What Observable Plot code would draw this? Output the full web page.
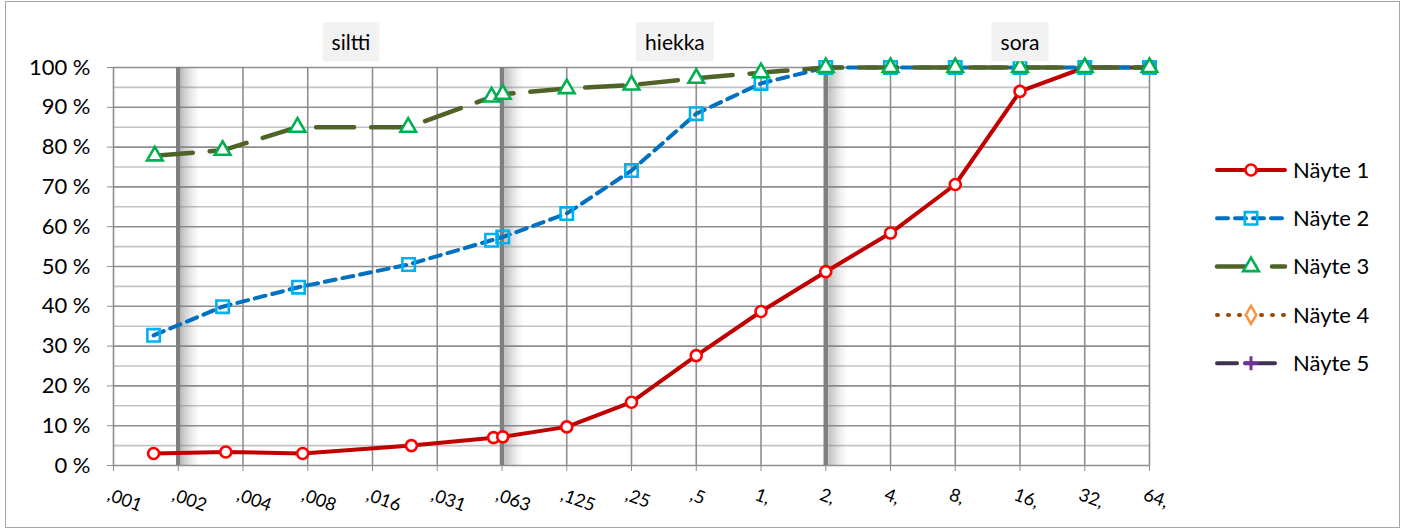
<!DOCTYPE html>
<html><head><meta charset="utf-8">
<script src="https://cdn.jsdelivr.net/npm/d3@7"></script>
<script src="https://cdn.jsdelivr.net/npm/@observablehq/plot@0.6"></script>
<style>
body{margin:0;background:#fff;}
#wrap{position:relative;width:1409px;height:529px;font-family:Lato,sans-serif;overflow:hidden;}
#border{position:absolute;left:5px;top:1px;width:1395px;height:527px;border:1px solid #a6a6a6;box-sizing:border-box;}
#chart{position:absolute;left:0;top:0;}
#legend{position:absolute;left:1205px;top:140px;}
</style></head>
<body><div id="wrap"><div id="border"></div><div id="chart"></div><div id="legend"></div></div>
<script>
// ---- data ----
const sampleNames = ["Näyte 1", "Näyte 2", "Näyte 3", "Näyte 4", "Näyte 5"];
const size1 = [0.0015, 0.00325, 0.0074, 0.0237, 0.0571, 0.063, 0.125, 0.25, 0.5, 1, 2, 4, 8, 16, 32, 64];
const pass1 = [3.0, 3.4, 3.0, 5.0, 7.0, 7.2, 9.7, 15.9, 27.6, 38.7, 48.7, 58.4, 70.6, 94.0, 100, 100];
const size2 = [0.0015, 0.00314, 0.00708, 0.0230, 0.0559, 0.063, 0.125, 0.25, 0.5, 1, 2, 4, 8, 16, 32, 64];
const pass2 = [32.7, 39.9, 44.8, 50.5, 56.6, 57.4, 63.3, 74.1, 88.4, 96.0, 100, 100, 100, 100, 100, 100];
const size3 = [0.00152, 0.00314, 0.0070, 0.0229, 0.0559, 0.063, 0.125, 0.25, 0.5, 1, 2, 4, 8, 16, 32, 64];
const pass3 = [77.8, 79.2, 85.0, 85.0, 92.6, 93.3, 94.7, 95.6, 97.3, 98.7, 100, 100, 100, 100, 100, 100];
const size4 = [];
const pass4 = [];
const size5 = [];
const pass5 = [];
const xTicks = [2**-10, 2**-9, 2**-8, 2**-7, 2**-6, 2**-5, 2**-4, 2**-3, 2**-2, 2**-1, 1, 2, 4, 8, 16, 32, 64];
const xTickLabels = [",001", ",002", ",004", ",008", ",016", ",031", ",063", ",125", ",25", ",5", "1,", "2,", "4,", "8,", "16,", "32,", "64,"];
const yTicks = [0, 10, 20, 30, 40, 50, 60, 70, 80, 90, 100];
const yMinor = [5, 15, 25, 35, 45, 55, 65, 75, 85, 95];
const boundaries = [2**-9, 2**-4, 2];
const zoneNames = ["siltti", "hiekka", "sora"];
const zoneX = [0.0124, 0.398, 16];

// ---- build ----
const rows = (sizes, vals, name) => sizes.map((s, i) => ({size: s, pass: vals[i], name}));
const d1 = rows(size1, pass1, sampleNames[0]);
const d2 = rows(size2, pass2, sampleNames[1]);
const d3s = rows(size3, pass3, sampleNames[2]);

const styles = [
  {line: "#C00000", dash: null, w: 4, sym: "circle", r: 5.5, ms: "#FF0000", mf: "white"},
  {line: "#0070C0", dash: "11,7", w: 4, sym: "square", r: 7, ms: "#00B0F0", mf: "none"},
  {line: "#4F6228", dash: "38,17", w: 4.5, sym: "triangle", r: 5.8, ms: "#00B050", mf: "white"},
  {line: "#984807", dash: "1,10", w: 4, sym: "diamond", r: 5.5, ms: "#F79646", mf: "white"},
  {line: "#403151", dash: "20,8,30,30", w: 4, sym: "plus", r: 7, ms: "#7030A0", mf: "none"}
];

const shadow = [];
for (let i = 0; i < 20; i++) {
  shadow.push(Plot.ruleX(boundaries, {stroke: "#808080", strokeWidth: 1.1, strokeOpacity: 0.5 * Math.pow(1 - i / 20, 1.6), dx: 3 + i}));
}

const seriesMarks = [];
[d1, d2, d3s].forEach((d, k) => {
  const s = styles[k];
  seriesMarks.push(Plot.line(d, {x: "size", y: "pass", stroke: s.line, strokeWidth: s.w, strokeDasharray: s.dash, strokeLinecap: "round"}));
  seriesMarks.push(Plot.dot(d, {x: "size", y: "pass", symbol: s.sym, r: s.r, stroke: s.ms, fill: s.mf, strokeWidth: 2.6}));
});

const chart = Plot.plot({
  width: 1409, height: 529,
  marginLeft: 113, marginRight: 260, marginTop: 67, marginBottom: 64,
  style: {fontFamily: "Lato, sans-serif", background: "transparent", overflow: "visible"},
  x: {type: "log", base: 2, domain: [2**-10, 2**6], label: null},
  y: {domain: [0, 100], label: null},
  marks: [
    Plot.ruleY(yMinor, {stroke: "#c4c4c4", strokeWidth: 1.6}),
    Plot.ruleY(yTicks, {stroke: "#8e8e8e", strokeWidth: 1.6}),
    Plot.ruleX(xTicks, {stroke: "#8e8e8e", strokeWidth: 1.6}),
    ...shadow,
    Plot.ruleX(boundaries, {stroke: "#7f7f7f", strokeWidth: 4.5}),
    Plot.axisY({ticks: yTicks, tickSize: 6, tickFormat: () => "", stroke: "#8e8e8e", label: null}),
    Plot.axisY({ticks: yTicks, tickSize: 0, tickPadding: 23, tickFormat: d => d + " %", fontSize: 22, fill: "#000", label: null}),
    Plot.axisX({ticks: xTicks, tickSize: 6, tickFormat: () => "", stroke: "#8e8e8e", label: null}),
    Plot.text(xTicks, {x: d => d, text: (d, i) => xTickLabels[i], frameAnchor: "bottom", textAnchor: "start", lineAnchor: "top", rotate: 20, dx: -3, dy: 22, fontSize: 18, fill: "#000"}),
    ...seriesMarks,
    Plot.text(zoneNames, {x: (d, i) => zoneX[i], y: () => 100, text: d => d, dy: -24, fontSize: 21, fill: "#000"})
  ]
});
document.getElementById("chart").appendChild(chart);

// gray boxes behind zone labels
d3.select(chart).selectAll("text").filter(function() { return zoneNames.includes(this.textContent); }).each(function() {
  const b = this.getBBox();
  const t = this.getAttribute("transform");
  const r = d3.select(this.parentNode).insert("rect", () => this)
    .attr("x", b.x - 9).attr("y", b.y - 7).attr("width", b.width + 18).attr("height", b.height + 14)
    .attr("fill", "#F2F2F2");
  if (t) r.attr("transform", t);
});

// legend
const lg = d3.select("#legend").append("svg").attr("width", 200).attr("height", 250)
  .style("font-family", "Lato, sans-serif");
const symMap = {circle: d3.symbolCircle, square: d3.symbolSquare, triangle: d3.symbolTriangle, diamond: d3.symbolDiamond, plus: d3.symbolCross};
sampleNames.forEach((name, i) => {
  const s = styles[i];
  const y = 30 + i * 48.3;
  const g = lg.append("g").attr("transform", `translate(10,${y})`);
  g.append("line").attr("x1", 2).attr("x2", 70).attr("y1", 0).attr("y2", 0)
    .attr("stroke", s.line).attr("stroke-width", s.w).attr("stroke-linecap", "round")
    .attr("stroke-dasharray", s.dash);
  if (s.sym === "plus") {
    g.append("path").attr("transform", "translate(36,0)").attr("d", "M-7,0H7M0,-7V7")
      .attr("stroke", s.ms).attr("stroke-width", 3);
  } else {
    g.append("path").attr("transform", "translate(36,0)")
      .attr("d", d3.symbol(symMap[s.sym], Math.PI * s.r * s.r)())
      .attr("stroke", s.ms).attr("fill", s.mf === "none" ? "none" : "white").attr("stroke-width", 2.6);
  }
  g.append("text").attr("x", 78).attr("y", 0).attr("dy", "0.35em").attr("font-size", 22).attr("fill", "#000").text(name);
});
</script>
</body></html>
